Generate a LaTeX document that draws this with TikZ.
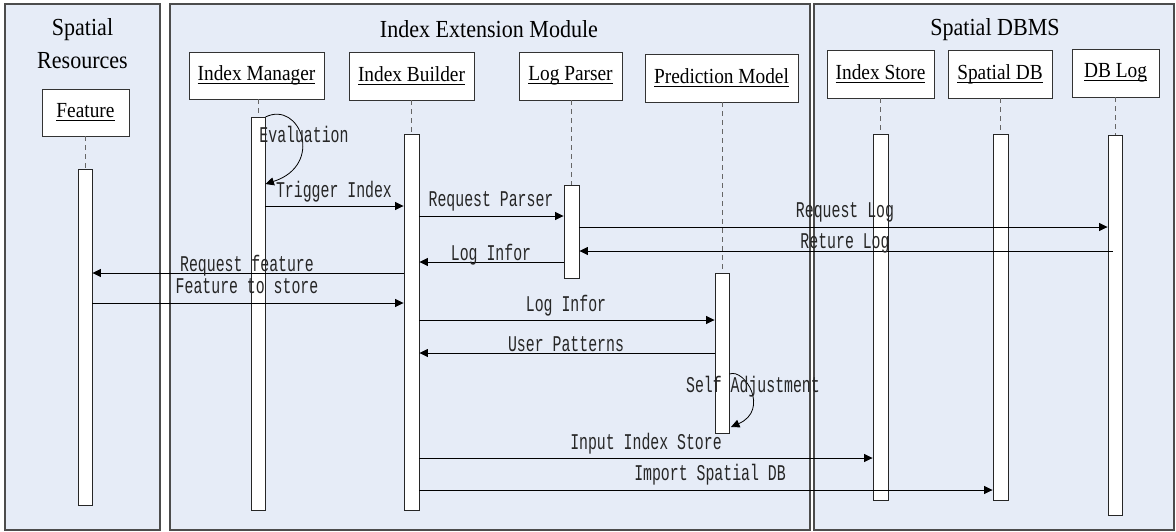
\documentclass[tikz,border=0pt]{standalone}
\usepackage{fontspec}
\setmainfont{Liberation Serif}[FakeStretch=0.9]
\newfontfamily\msgfont{Liberation Mono}[FakeStretch=0.66]
\usetikzlibrary{arrows.meta}
\definecolor{panelbg}{RGB}{230,236,247}
% underline drawn at a fixed depth, crossing descenders
\newcommand\objul[1]{\setbox0\hbox{#1}\rlap{\rule[-3.2pt]{\wd0}{0.8pt}}\box0}

\begin{document}
\begin{tikzpicture}[x=1pt,y=-1pt,
  panel/.style={draw=black!70,fill=panelbg,line width=1.2pt},
  title/.style={font=\fontsize{24.5}{26}\selectfont,anchor=base,inner sep=0pt},
  obj/.style={draw=black!80,fill=white,line width=0.9pt,minimum height=47pt,
    inner sep=0pt,font=\fontsize{21.5}{23}\selectfont},
  bar/.style={draw=black!85,fill=white,line width=0.9pt,minimum width=14pt,
    inner sep=0pt,anchor=north},
  life/.style={draw=black!60,dash pattern=on 5pt off 4pt,line width=0.8pt},
  msg/.style={draw=black,line width=0.8pt,-{Triangle[length=8.5pt,width=8pt]}},
  lbl/.style={font=\msgfont\fontsize{22.5}{24}\selectfont,anchor=base,
    inner sep=0pt,text=black!85},
]
\useasboundingbox (0,0) rectangle (1176,531);

% swimlane panels
\draw[panel] (5,4) rectangle (160,530);
\draw[panel] (170,4) rectangle (810,530);
\draw[panel] (814,4) rectangle (1174,530);

\node[title] (tsr1) at (82.5,35) {Spatial};
\node[title] (tsr2) at (82.5,68) {Resources};
\node[title] (tiem) at (489,37) {Index Extension Module};
\node[title] (tdb) at (995,35) {Spatial DBMS};

% participants
\node[obj,minimum width=87pt] (feat) at (85.5,112.5) {\objul{Feature}};
\node[obj,minimum width=135pt] (im) at (256.5,75.5) {\objul{Index Manager}};
\node[obj,minimum width=125pt,minimum height=48pt] (ib) at (411.5,76) {\objul{Index Builder}};
\node[obj,minimum width=103pt,minimum height=48pt] (lp) at (570.5,76) {\objul{Log Parser}};
\node[obj,minimum width=153pt,minimum height=48pt] (pm) at (721.5,78) {\objul{Prediction Model}};
\node[obj,minimum width=107pt,minimum height=48pt] (is) at (880.5,74) {\objul{Index Store}};
\node[obj,minimum width=104pt,minimum height=48pt] (sdb) at (1000,74) {\objul{Spatial DB}};
\node[obj,minimum width=87pt,minimum height=48pt] (dbl) at (1115.5,73) {\objul{DB Log}};

% activation bars
\node[bar,minimum height=336pt] (fbar) at (85,169) {};
\node[bar,minimum height=393pt] (imbar) at (258,117) {};
\node[bar,minimum width=15pt,minimum height=376pt] (ibbar) at (411.5,134) {};
\node[bar,minimum width=15pt,minimum height=93pt] (lpbar) at (571.5,185) {};
\node[bar,minimum height=160pt] (pmbar) at (722,273) {};
\node[bar,minimum width=15pt,minimum height=366pt] (isbar) at (880.5,134) {};
\node[bar,minimum width=15pt,minimum height=366pt] (sdbar) at (1000.5,134) {};
\node[bar,minimum height=380pt] (dlbar) at (1115,135) {};

% lifelines
\draw[life] (fbar.north |- feat.south) -- (fbar.north);
\draw[life] (imbar.north |- im.south) -- (imbar.north);
\draw[life] (ibbar.north |- ib.south) -- (ibbar.north);
\draw[life] (lpbar.north |- lp.south) -- (lpbar.north);
\draw[life] (pmbar.north |- pm.south) -- (pmbar.north);
\draw[life] (isbar.north |- is.south) -- (isbar.north);
\draw[life] (sdbar.north |- sdb.south) -- (sdbar.north);
\draw[life] (dlbar.north |- dbl.south) -- (dlbar.north);

% messages
\draw[msg] (imbar.north east) .. controls (300,100) and (325,165) .. (imbar.east |- 0,184);
\draw[msg] (imbar.east |- 0,206) -- (ibbar.west |- 0,206);
\draw[msg] (ibbar.east |- 0,216) -- (lpbar.west |- 0,216);
\draw[msg] (lpbar.east |- 0,227) -- (dlbar.west |- 0,227);
\draw[msg] ([xshift=5pt]dlbar.west |- 0,251) -- (lpbar.east |- 0,251);
\draw[msg] (lpbar.west |- 0,262) -- (ibbar.east |- 0,262);
\draw[msg] (ibbar.west |- 0,273) -- (fbar.east |- 0,273);
\draw[msg] (fbar.east |- 0,303) -- (ibbar.west |- 0,303);
\draw[msg] (ibbar.east |- 0,320) -- (pmbar.west |- 0,320);
\draw[msg] (pmbar.west |- 0,353) -- (ibbar.east |- 0,353);
\draw[msg] (pmbar.east |- 0,374) .. controls (745,368) and (770,410) .. (731,427);
\draw[msg] (ibbar.east |- 0,458) -- (isbar.west |- 0,458);
\draw[msg] (ibbar.east |- 0,490) -- (sdbar.west |- 0,490);

% message labels
\node[lbl] (l1) at (304,142) {Evaluation};
\node[lbl] (l2) at (334,197) {Trigger Index};
\node[lbl] (l3) at (491,206) {Request Parser};
\node[lbl] (l4) at (845,217) {Request Log};
\node[lbl] (l5) at (845,248) {Reture Log};
\node[lbl] (l6) at (491,260) {Log Infor};
\node[lbl] (l7) at (247,271) {Request feature};
\node[lbl] (l8) at (247,293) {Feature to store};
\node[lbl] (l9) at (566,311) {Log Infor};
\node[lbl] (l10) at (566,351) {User Patterns};
\node[lbl] (l11) at (753,392) {Self Adjustment};
\node[lbl] (l12) at (646,449) {Input Index Store};
\node[lbl] (l13) at (710,480) {Import Spatial DB};
\end{tikzpicture}
\end{document}
